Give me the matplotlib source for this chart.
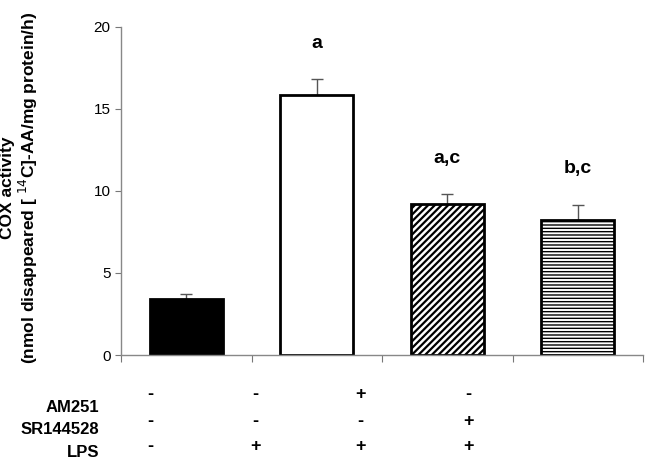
import matplotlib
matplotlib.use("Agg")
import matplotlib.pyplot as plt
import numpy as np

plt.rcParams['font.family'] = ['Liberation Sans', 'DejaVu Sans']
plt.rcParams['hatch.linewidth'] = 1.6

values = [3.4, 15.85, 9.2, 8.25]
errors = [0.35, 0.95, 0.6, 0.9]
letters = ["", "a", "a,c", "b,c"]
row_names = ["AM251", "SR144528", "LPS"]
am251 = ["-", "-", "+", "-"]
sr144528 = ["-", "-", "-", "+"]
lps = ["-", "+", "+", "+"]

fig = plt.figure(figsize=(6.48, 4.65), dpi=100)
ax = fig.add_axes([121/648, 110/465, 522/648, 328/465])

x = np.arange(len(values))
faces = ['black', 'white', 'white', 'white']
hatches = [None, None, '/////', '-----']
hlw = [1.6, 1.6, 1.6, 1.0]
for i in range(len(values)):
    bars = ax.bar(x[i], values[i], width=0.56, color=faces[i], edgecolor='black',
                  linewidth=2, hatch=hatches[i], zorder=2)
    for b in bars:
        if hasattr(b, 'set_hatch_linewidth'):
            b.set_hatch_linewidth(hlw[i])
ax.errorbar(x, values, yerr=[np.zeros(len(errors)), errors], fmt='none',
            ecolor='#555555', elinewidth=1, capsize=4, capthick=1, zorder=1)
for i, t in enumerate(letters):
    if t:
        ax.text(x[i], values[i] + errors[i] + 2.2, t, ha='center', va='center',
                fontsize=14, fontweight='bold')

ax.set_xlim(-0.5, 3.5)
ax.set_ylim(0, 20)
ax.set_yticks([0, 5, 10, 15, 20])
ax.set_xticks([-0.5, 0.5, 1.5, 2.5, 3.5])
ax.set_xticklabels([])
ax.tick_params(axis='both', colors='#777777', length=4, labelcolor='black')
ax.tick_params(axis='y', labelsize=11)
ax.tick_params(axis='x', length=5)
for s in ['top', 'right']:
    ax.spines[s].set_visible(False)
for s in ['left', 'bottom']:
    ax.spines[s].set_color('#888888')
    ax.spines[s].set_linewidth(1)

fig.text(20/648, 1 - 188/465,
         "COX activity\n(nmol disappeared [ $^{14}$C]-AA/mg protein/h)",
         rotation=90, ha='center', va='center', fontsize=12.5,
         fontweight='bold', linespacing=1.05)

# treatment table
col_x = [150, 255, 360, 468]
rows = [(am251, 394, 407), (sr144528, 421, 429), (lps, 446, 452)]
for (vals, ysym, ylab), name in zip(rows, row_names):
    fig.text(99/648, 1 - ylab/465, name, ha='right', va='center',
             fontsize=12, fontweight='bold')
    for cx, v in zip(col_x, vals):
        fig.text(cx/648, 1 - ysym/465, v, ha='center', va='center',
                 fontsize=13, fontweight='bold')

fig.savefig("out.png", dpi=100)
